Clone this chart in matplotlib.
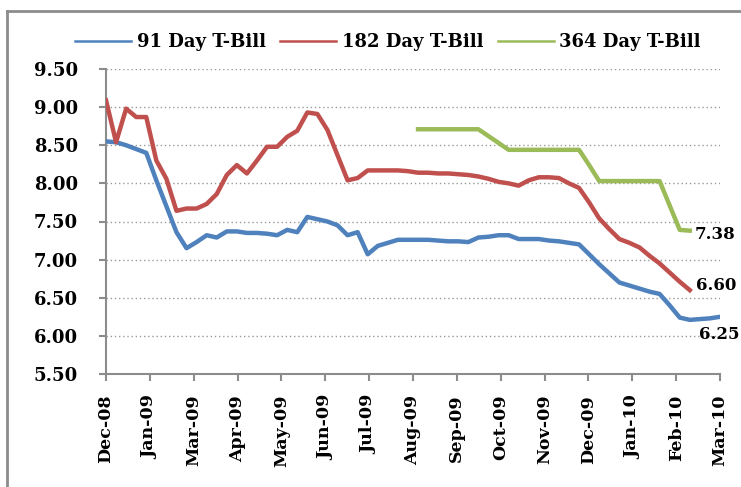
import matplotlib
matplotlib.use("Agg")
import matplotlib.pyplot as plt
import numpy as np
from matplotlib.lines import Line2D

# weekly auction yields (%), Dec-08 .. Mar-10
tbill_91 = [8.55, 8.54, 8.50, 8.45, 8.40, 8.04, 7.70, 7.36, 7.15, 7.23,
            7.32, 7.29, 7.37, 7.37, 7.35, 7.35, 7.34, 7.32, 7.39, 7.36,
            7.56, 7.53, 7.50, 7.45, 7.32, 7.36, 7.07, 7.18, 7.22, 7.26,
            7.26, 7.26, 7.26, 7.25, 7.24, 7.24, 7.23, 7.29, 7.30, 7.32,
            7.32, 7.27, 7.27, 7.27, 7.25, 7.24, 7.22, 7.20, 7.07, 6.94,
            6.82, 6.70, 6.66, 6.62, 6.58, 6.55, 6.40, 6.24, 6.21, 6.22,
            6.23, 6.25]
tbill_182 = [9.09, 8.54, 8.98, 8.87, 8.87, 8.30, 8.06, 7.64, 7.67, 7.67,
             7.73, 7.86, 8.11, 8.24, 8.13, 8.30, 8.48, 8.48, 8.61, 8.69,
             8.93, 8.91, 8.70, 8.37, 8.04, 8.07, 8.17, 8.17, 8.17, 8.17,
             8.16, 8.14, 8.14, 8.13, 8.13, 8.12, 8.11, 8.09, 8.06, 8.02,
             8.00, 7.97, 8.04, 8.08, 8.08, 8.07, 8.00, 7.94, 7.75, 7.54,
             7.40, 7.27, 7.22, 7.16, 7.05, 6.95, 6.83, 6.71, 6.60]
tbill_364_start = 31  # first week with a 364 day auction
tbill_364 = [8.71, 8.71, 8.71, 8.71, 8.71, 8.71, 8.71, 8.62, 8.53, 8.44,
             8.44, 8.44, 8.44, 8.44, 8.44, 8.44, 8.44, 8.24, 8.03, 8.03,
             8.03, 8.03, 8.03, 8.03, 8.03, 7.71, 7.39, 7.38]

tick_labels = ['Dec-08', 'Jan-09', 'Mar-09', 'Apr-09', 'May-09', 'Jun-09',
               'Jul-09', 'Aug-09', 'Sep-09', 'Oct-09', 'Nov-09', 'Dec-09',
               'Jan-10', 'Feb-10', 'Mar-10']

blue = '#4F81BD'
red = '#C0504D'
green = '#9BBB59'
grey = '#8C8C8C'

plt.rcParams['font.family'] = 'DejaVu Serif'
plt.rcParams['font.weight'] = 'bold'

fig = plt.figure(figsize=(7.41, 4.87), dpi=100)
ax = fig.add_axes([106 / 741, 1 - 374 / 487, 614 / 741, 305 / 487])

x91 = np.arange(len(tbill_91))
x182 = np.arange(len(tbill_182))
x364 = np.arange(len(tbill_364)) + tbill_364_start

ax.plot(x91, tbill_91, color=blue, lw=3.2, solid_joinstyle='round', zorder=3)
ax.plot(x182, tbill_182, color=red, lw=3.2, solid_joinstyle='round', zorder=3)
ax.plot(x364, tbill_364, color=green, lw=3.2, solid_joinstyle='round', zorder=3)

# end-of-series value labels
lab_kw = dict(textcoords='offset pixels', fontsize=12, fontweight='bold',
              va='center', ha='left')
ax.annotate(f'{tbill_91[-1]:.2f}', (x91[-1], tbill_91[-1]), xytext=(-21, -18), **lab_kw)
ax.annotate(f'{tbill_182[-1]:.2f}', (x182[-1], tbill_182[-1]), xytext=(6, 5), **lab_kw)
ax.annotate(f'{tbill_364[-1]:.2f}', (x364[-1], tbill_364[-1]), xytext=(5, -4), **lab_kw)

ax.set_xlim(0, len(tbill_91) - 1)
ax.set_ylim(5.5, 9.5)
ax.set_yticks(np.arange(5.5, 9.51, 0.5))
ax.set_yticklabels([f'{v:.2f}' for v in np.arange(5.5, 9.51, 0.5)], fontsize=13)
ax.set_xticks(np.linspace(0, len(tbill_91) - 1, len(tick_labels)))
ax.set_xticklabels(tick_labels, rotation=90, fontsize=12.5)

ax.grid(axis='y', color='#999999', linestyle=(0, (1, 2)), lw=1.0)
ax.set_axisbelow(True)
for s in ['top', 'right']:
    ax.spines[s].set_visible(False)
for s in ['left', 'bottom']:
    ax.spines[s].set_color(grey)
    ax.spines[s].set_linewidth(1.5)
ax.tick_params(axis='both', colors=grey, length=5, width=1.5, labelcolor='black')
ax.tick_params(axis='y', pad=15)
ax.tick_params(axis='x', pad=10)

handles = [Line2D([], [], color=c, lw=1.8) for c in (blue, red, green)]
fig.legend(handles, ['91 Day T-Bill', '182 Day T-Bill', '364 Day T-Bill'],
           loc='center', bbox_to_anchor=(388 / 741, 1 - 42 / 487), ncol=3,
           frameon=False, handlelength=3.1, handletextpad=0.3,
           columnspacing=0.8, prop={'weight': 'bold', 'size': 13})

# chart border (right and bottom edges fall outside the picture)
fig.add_artist(Line2D([7 / 741, 1.01], [1 - 11 / 487] * 2, color=grey, lw=2,
                      transform=fig.transFigure))
fig.add_artist(Line2D([7 / 741] * 2, [1 - 11 / 487, -0.01], color=grey, lw=2,
                      transform=fig.transFigure))

fig.savefig('out.png', dpi=100)
